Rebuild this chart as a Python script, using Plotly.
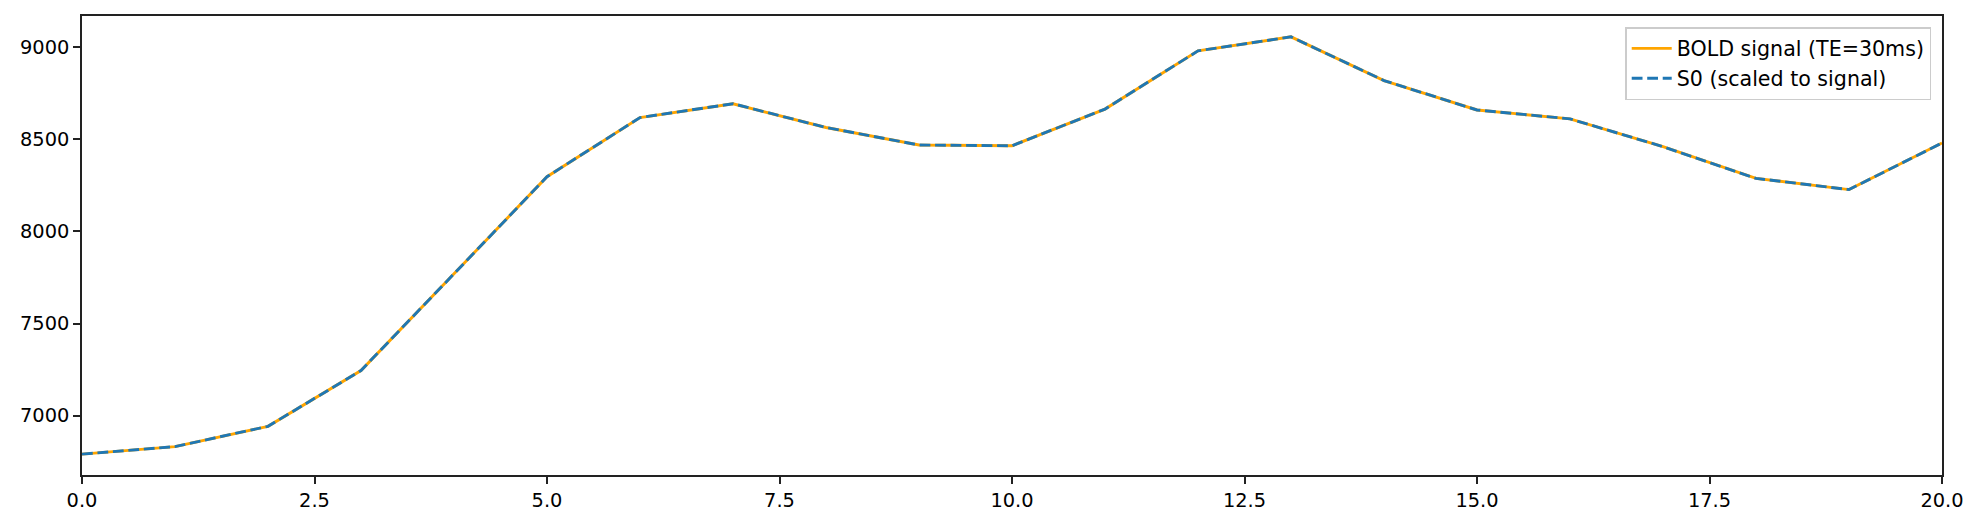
import plotly.graph_objects as go

# time points (volumes)
t = list(range(21))

# BOLD signal at TE=30ms
bold_signal = [6791, 6832, 6942, 7245, 7770, 8297, 8618, 8693, 8564, 8469,
               8465, 8664, 8980, 9056, 8819, 8659, 8611, 8460, 8288, 8227, 8480]

# S0 scaled to signal - sits right on top of the BOLD curve
s0_scaled = [6791, 6832, 6942, 7245, 7770, 8297, 8618, 8693, 8564, 8469,
             8465, 8664, 8980, 9056, 8819, 8659, 8611, 8460, 8288, 8227, 8480]

y_ticks = [7000, 7500, 8000, 8500, 9000]
x_ticks = [0, 2.5, 5, 7.5, 10, 12.5, 15, 17.5, 20]

# matplotlib-like 5% margin on y
lo = min(bold_signal + s0_scaled)
hi = max(bold_signal + s0_scaled)
pad = (hi - lo) * 0.05

fig = go.Figure()
fig.add_trace(go.Scatter(x=t, y=bold_signal, mode="lines",
                         name="BOLD signal (TE=30ms)",
                         line=dict(color="#FFA500", width=2.9)))
fig.add_trace(go.Scatter(x=t, y=s0_scaled, mode="lines",
                         name="S0 (scaled to signal)",
                         line=dict(color="#1f77b4", width=2.9, dash="10.8px,4.7px")))

axis_style = dict(showline=True, linecolor="#222222", linewidth=1.6, mirror=True,
                  ticks="outside", ticklen=7, tickwidth=1.6, tickcolor="#222222",
                  showgrid=False, zeroline=False,
                  tickfont=dict(family="DejaVu Sans", size=19.4, color="black"))

fig.update_xaxes(range=[0, 20], tickvals=x_ticks,
                 ticktext=[f"{v:.1f}" for v in x_ticks], **axis_style)
fig.update_yaxes(range=[lo - pad, hi + pad], tickvals=y_ticks,
                 ticktext=[str(v) for v in y_ticks], **axis_style)

# page body adds ~8px offset, so the figure is a bit smaller than the window
fig.update_layout(
    width=1964, height=510,
    margin=dict(l=74, r=30, t=6, b=43),
    plot_bgcolor="white", paper_bgcolor="white",
    font=dict(family="DejaVu Sans", size=19.4, color="black"),
    legend=dict(x=0.9942, y=0.976, xanchor="right", yanchor="top",
                bgcolor="rgba(255,255,255,0.8)", bordercolor="#cccccc",
                borderwidth=1.5, font=dict(size=20.6), tracegroupgap=0,
                itemwidth=40),
    showlegend=True,
)

fig.write_html("out.html")
